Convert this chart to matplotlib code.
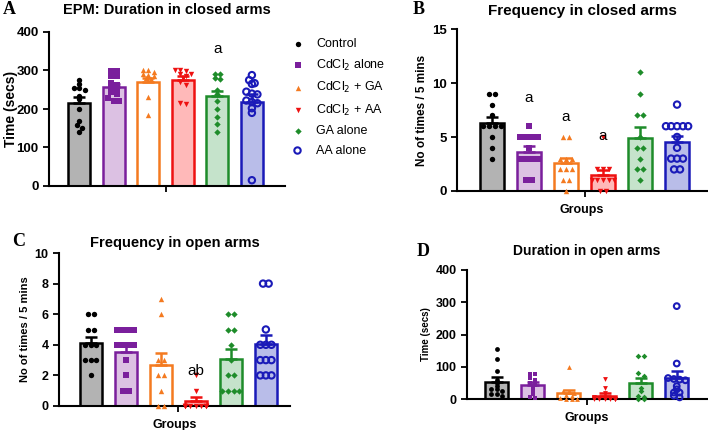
import numpy as np
import matplotlib.pyplot as plt

plt.rcParams['font.family'] = ['Liberation Sans', 'DejaVu Sans']

groups = ['Control', 'CdCl$_2$ alone', 'CdCl$_2$ + GA', 'CdCl$_2$ + AA', 'GA alone', 'AA alone']
edge_colors = ['#000000', '#7a1f9c', '#f47a20', '#ee1111', '#1e8c2a', '#1a1ab8']
fill_colors = ['#b3b3b3', '#dcc1e3', '#ffffff', '#ffb9b9', '#c5e3cb', '#b9bde9']
markers = ['o', 's', '^', 'v', 'D', 'o']

# A: duration in closed arms (secs)
dur_closed_pts = [
    [275, 265, 255, 255, 250, 235, 225, 200, 170, 158, 150, 140],
    [298, 298, 285, 285, 268, 262, 255, 250, 245, 240, 228, 222, 222],
    [300, 300, 295, 290, 288, 285, 280, 278, 230, 185],
    [300, 300, 298, 292, 290, 285, 280, 270, 262, 215, 212],
    [290, 290, 280, 278, 250, 240, 220, 200, 180, 160, 140],
    [288, 275, 267, 265, 245, 240, 238, 222, 218, 215, 202, 190, 15],
]
dur_closed_mean = [215, 258, 271, 275, 234, 219]
dur_closed_sem = [15, 8, 10, 11, 14, 20]

# B: frequency in closed arms
freq_closed_pts = [
    [9, 9, 8, 7, 6, 6, 6, 6, 5, 4, 3],
    [6, 5, 5, 5, 5, 4, 3, 3, 3, 3, 1, 1],
    [5, 5, 3, 3, 3, 2, 2, 2, 1, 1, 0],
    [5, 2, 2, 2, 1, 1, 1, 1, 1, 0, 0],
    [11, 9, 7, 7, 5, 4, 4, 3, 2, 2, 1],
    [8, 6, 6, 6, 6, 6, 5, 4, 3, 3, 3, 2, 2],
]
freq_closed_mean = [6.25, 3.65, 2.55, 1.45, 4.9, 4.5]
freq_closed_sem = [0.6, 0.5, 0.55, 0.5, 1.0, 0.6]

# C: frequency in open arms
freq_open_pts = [
    [6, 6, 5, 5, 4, 4, 4, 3, 3, 3, 2],
    [5, 5, 5, 5, 4, 4, 4, 4, 3, 2, 1, 1],
    [7, 6, 3, 3, 2, 2, 1, 0, 0],
    [2, 1, 0, 0, 0, 0, 0, 0, 0, 0, 0],
    [6, 6, 5, 5, 4, 3, 2, 2, 1, 1, 1, 1],
    [8, 8, 5, 4, 4, 4, 3, 3, 3, 2, 2, 2],
]
freq_open_mean = [4.1, 3.5, 2.65, 0.3, 3.05, 4.05]
freq_open_sem = [0.4, 0.55, 0.8, 0.28, 0.65, 0.6]

# D: duration in open arms (secs)
dur_open_pts = [
    [155, 125, 88, 60, 50, 40, 30, 30, 25, 15, 15, 10],
    [78, 78, 65, 60, 50, 42, 38, 25, 15, 5, 2],
    [100, 25, 22, 18, 12, 8, 3, 0, 0, 0],
    [63, 35, 20, 5, 3, 0, 0, 0, 0, 0, 0, 0],
    [133, 133, 80, 72, 35, 25, 10, 5, 0, 0],
    [288, 110, 65, 62, 60, 58, 40, 30, 20, 20, 10, 5],
]
dur_open_mean = [54, 42, 20, 10, 49, 65]
dur_open_sem = [15, 11, 9, 8, 17, 23]


def spread(vals, tol, step):
    # side-by-side offsets for points sharing (about) the same value
    vals = np.asarray(vals, float)
    offs = np.zeros(len(vals))
    clusters = []
    for i in np.argsort(-vals, kind='stable'):
        if clusters and abs(vals[i] - vals[clusters[-1][0]]) <= tol:
            clusters[-1].append(i)
        else:
            clusters.append([i])
    for c in clusters:
        n = len(c)
        for k, i in enumerate(c):
            offs[i] = (k - (n - 1) / 2) * step
    return np.clip(offs, -0.3, 0.3)


def panel(ax, pts, means, sems, ylim, yticks, xlim, tol, fs, ylabel, yfs, xlabel=None, msize=15):
    x = np.arange(len(means))
    handles = []
    for i in range(len(means)):
        ax.bar(x[i], means[i], width=0.64, color=fill_colors[i], edgecolor=edge_colors[i],
               linewidth=1.8, zorder=1)
        xs = x[i] + spread(pts[i], tol, 0.16)
        s = msize * (0.7 if markers[i] == 'D' else 1.0)
        if i == 5:
            h = ax.scatter(xs, pts[i], s=msize * 1.4, marker='o', facecolors='none',
                           edgecolors=edge_colors[i], linewidths=1.5, zorder=3, clip_on=False)
        else:
            h = ax.scatter(xs, pts[i], s=s, marker=markers[i], color=edge_colors[i],
                           linewidths=0, zorder=3, clip_on=False)
        handles.append(h)
        ax.errorbar(x[i], means[i], yerr=[[0], [sems[i]]], color=edge_colors[i],
                    capsize=4, elinewidth=1.8, capthick=1.8, zorder=4)
    ax.set_xlim(*xlim)
    ax.set_ylim(*ylim)
    ax.set_yticks(yticks)
    ax.set_xticks([2.5])
    ax.set_xticklabels([''])
    for sp in ['top', 'right']:
        ax.spines[sp].set_visible(False)
    for sp in ['left', 'bottom']:
        ax.spines[sp].set_linewidth(1.5)
    ax.tick_params(direction='out', length=4, width=1.3, labelsize=fs)
    for lbl in ax.get_yticklabels():
        lbl.set_fontweight('bold')
    ax.set_ylabel(ylabel, fontsize=yfs, fontweight='bold', labelpad=3)
    if xlabel:
        ax.set_xlabel(xlabel, fontsize=9, fontweight='bold', labelpad=2)
    return handles


W, H = 708, 430
fig = plt.figure(figsize=(7.08, 4.30), dpi=100)


def axes_px(x0, y0, x1, y1):
    return fig.add_axes([x0 / W, 1 - y1 / H, (x1 - x0) / W, (y1 - y0) / H])


axA = axes_px(49, 32, 285, 186)
axB = axes_px(457, 29, 707, 191)
axC = axes_px(59, 253, 290, 406)
axD = axes_px(467, 270, 707, 399)

hA = panel(axA, dur_closed_pts, dur_closed_mean, dur_closed_sem, (0, 400), [0, 100, 200, 300, 400],
           (-0.88, 5.96), 8, 9.5, 'Time (secs)', 10)
panel(axB, freq_closed_pts, freq_closed_mean, freq_closed_sem, (0, 15), [0, 5, 10, 15],
      (-0.95, 5.81), 0.3, 9.5, 'No of times / 5 mins', 8.5, 'Groups')
panel(axC, freq_open_pts, freq_open_mean, freq_open_sem, (0, 10), [0, 2, 4, 6, 8, 10],
      (-0.91, 5.69), 0.3, 9, 'No of times / 5 mins', 8, 'Groups')
panel(axD, dur_open_pts, dur_open_mean, dur_open_sem, (0, 400), [0, 100, 200, 300, 400],
      (-0.82, 5.84), 8, 9, 'Time (secs)', 7, 'Groups', msize=12)
axA.yaxis.set_label_coords(-0.13, 0.5)

axA.set_title('EPM: Duration in closed arms', fontsize=10.5, fontweight='bold', pad=13)
axB.set_title('Frequency in closed arms', fontsize=11, fontweight='bold', pad=10)
axC.set_title('Frequency in open arms', fontsize=10.5, fontweight='bold', pad=4)
axD.set_title('Duration in open arms', fontsize=10, fontweight='bold', pad=11)

# significance letters
axA.text(4, 355, 'a', fontsize=11, ha='center', va='center')
axB.text(1, 8.6, 'a', fontsize=11, ha='center', va='center')
axB.text(2, 6.85, 'a', fontsize=11, ha='center', va='center')
axB.text(3, 5.1, 'a', fontsize=11, ha='center', va='center')
axC.text(3, 2.3, 'ab', fontsize=11, ha='center', va='center')

# panel letters
for lab, px, py in [('A', 9, 9), ('B', 419, 9), ('C', 19, 242), ('D', 423, 251)]:
    fig.text(px / W, 1 - py / H, lab, fontsize=13, fontweight='bold',
             family=['Liberation Serif', 'DejaVu Serif'], ha='center', va='center')

fig.legend(hA, groups, loc='upper left', bbox_to_anchor=(290 / W, 1 - 38 / H), frameon=False,
           fontsize=9, labelspacing=0.6, handletextpad=0.9, handlelength=1.2, borderaxespad=0,
           borderpad=0)

fig.savefig('out.png', dpi=100)
